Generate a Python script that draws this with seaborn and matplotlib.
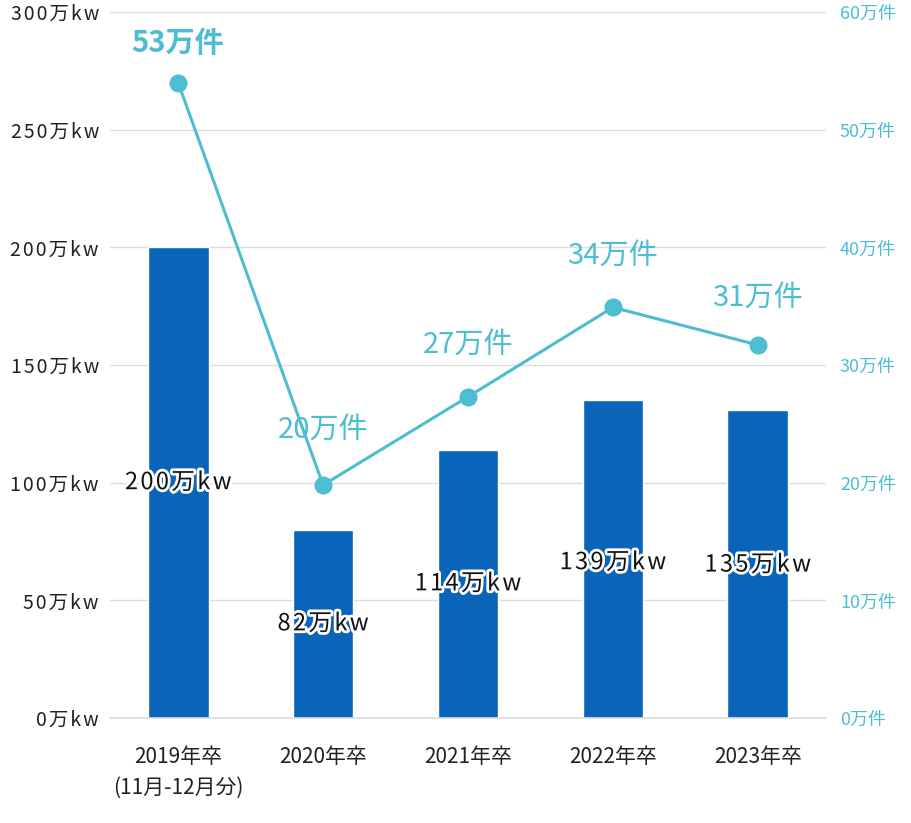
import matplotlib
matplotlib.use("Agg")
import matplotlib.pyplot as plt
import matplotlib.patheffects as pe
import seaborn as sns
import pandas as pd

# data
years = ["2019年卒\n(11月-12月分)", "2020年卒", "2021年卒", "2022年卒", "2023年卒"]
kw = [200, 80, 114, 135, 131]
kw_labels = ["200万kw", "82万kw", "114万kw", "139万kw", "135万kw"]
kw_label_y = [100, 40, 57, 66, 65]
cases = [54, 19.8, 27.3, 34.9, 31.7]
case_labels = ["53万件", "20万件", "27万件", "34万件", "31万件"]
case_label_y = [57.4, 24.5, 31.7, 39.3, 35.7]

BAR = "#0A64B9"
LINE = "#4DBDD2"


def spaced(s):
    # wide letter spacing like the reference
    return "\u200a".join(s)


sns.set_theme(style="white")
plt.rcParams["font.family"] = ["Noto Sans CJK JP", "DejaVu Sans"]

fig = plt.figure(figsize=(9.12, 8.23), dpi=100)
ax = fig.add_axes([110/912, 105/823, 716/912, 706/823])
df = pd.DataFrame({"x": list(range(5)), "kw": kw, "cases": cases})
sns.barplot(data=df, x="x", y="kw", color=BAR, width=0.42, saturation=1, ax=ax)
ax.set_xlim(-0.47, 4.47)
ax.set_ylim(0, 300)
ax.set_yticks(range(0, 301, 50))
ax.set_yticklabels([spaced(f"{v}万kw") for v in range(0, 301, 50)], fontsize=14, color="#222222")
ax.set_xticks(range(5))
ax.set_xticklabels([])
for i, t in enumerate(years):
    ax.text(i, -0.04, t, transform=ax.get_xaxis_transform(), ha="center", va="top",
            fontsize=15, color="#222222", linespacing=1.5)
ax.set_xlabel("")
ax.set_ylabel("")
ax.yaxis.grid(True, color="#dddddd", lw=1)
ax.set_axisbelow(True)
for s in ["top", "right", "left"]:
    ax.spines[s].set_visible(False)
ax.spines["bottom"].set_color("#dddddd")
ax.tick_params(axis="y", length=0, pad=8)
ax.tick_params(axis="x", length=0)
for i, (t, y) in enumerate(zip(kw_labels, kw_label_y)):
    ax.text(i, y, spaced(t), ha="center", va="center", fontsize=17, color="#111111",
            path_effects=[pe.withStroke(linewidth=4, foreground="white")], zorder=5)

ax2 = ax.twinx()
sns.lineplot(data=df, x="x", y="cases", color=LINE, lw=2.2, marker="o", markersize=13,
             markeredgewidth=0, ax=ax2)
ax2.set_ylim(0, 60)
ax2.set_yticks(range(0, 61, 10))
ax2.set_yticklabels([f"{v}万件" for v in range(0, 61, 10)], fontsize=13, color=LINE)
ax2.tick_params(axis="y", length=0, pad=10)
ax2.set_ylabel("")
ax2.set_xlabel("")
ax2.grid(False)
for s in ax2.spines.values():
    s.set_visible(False)
for i, (t, y) in enumerate(zip(case_labels, case_label_y)):
    ax2.text(i, y, t, ha="center", va="center", fontsize=21, color=LINE,
             fontweight="bold" if i == 0 else "normal")

fig.savefig("out.png", dpi=100)
